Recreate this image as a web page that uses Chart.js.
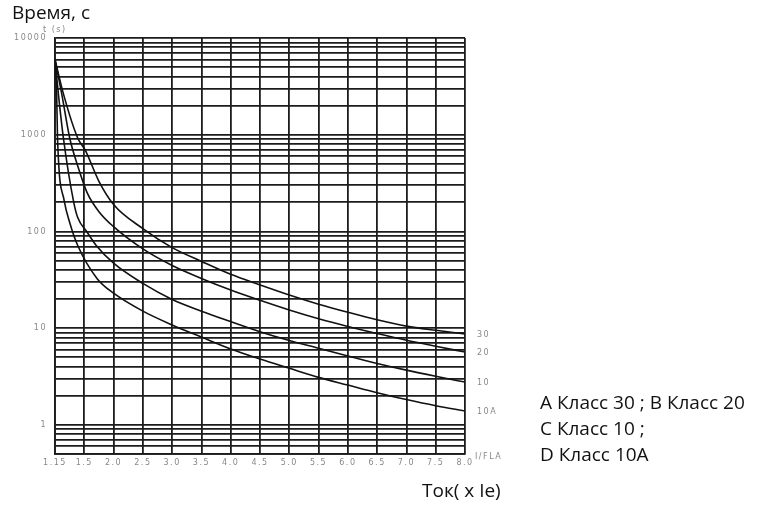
<!DOCTYPE html>
<html>
<head>
<meta charset="utf-8">
<script src="https://cdn.jsdelivr.net/npm/chart.js@4"></script>
<style>
body { margin: 0; background: #fff; }
#wrap { position: relative; width: 759px; height: 505px; }
.lbl { position: absolute; font-family: "Open Sans", sans-serif; font-size: 19px; color: #111; white-space: nowrap; line-height: 1; }
</style>
</head>
<body>
<div id="wrap">
  <canvas id="chart"></canvas>
  <div class="lbl" style="left:12px;top:3px">Время, с</div>
  <div class="lbl" style="left:422px;top:481px">Ток( x Ie)</div>
  <div class="lbl" style="left:540px;top:389px;line-height:26px">A Класс 30 ; B Класс 20<br>C Класс 10 ;<br>D Класс 10A</div>
</div>
<script>
// подписи оси X (кратность тока), шаг на графике одинаковый
const xLabels = ['1.15', '1.5', '2.0', '2.5', '3.0', '3.5', '4.0', '4.5', '5.0', '5.5', '6.0', '6.5', '7.0', '7.5', '8.0'];
// линии сетки по Y и подписанные значения
const yGrid = [0.5, 0.6, 0.7, 0.8, 0.9, 1, 2, 3, 4, 5, 6, 7, 8, 9, 10, 20, 30, 40, 50, 60, 70, 80, 90,
  100, 200, 300, 400, 500, 600, 700, 800, 900, 1000, 2000, 3000, 4000, 5000, 6000, 7000, 8000, 9000, 10000];
const yLabels = [1, 10, 100, 1000, 10000];

const endLabels = ['30', '20', '10', '10A'];

// класс 30
const current30 = [1.15, 1.25, 1.42, 1.52, 1.75, 2.0, 2.5, 3.0, 3.5, 4.0, 4.5, 5.0, 5.5, 6.0, 6.5, 7.0, 7.5, 8.0];
const time30 = [6000, 2660, 930, 684, 330, 190, 107, 68, 49, 36, 28, 22, 17.7, 14.6, 12.2, 10.5, 9.5, 8.7];
// класс 20
const current20 = [1.15, 1.23, 1.325, 1.42, 1.55, 1.75, 2.0, 2.5, 3.0, 3.5, 4.0, 4.5, 5.0, 5.5, 6.0, 6.5, 7.0, 7.5, 8.0];
const time20 = [6000, 2660, 930, 480, 250, 160, 112, 66, 44.5, 32.7, 24.8, 19.4, 15.4, 12.5, 10.4, 8.8, 7.5, 6.5, 5.66];
// класс 10
const current10 = [1.15, 1.19, 1.25, 1.37, 1.42, 1.55, 1.7, 2.0, 2.5, 3.0, 3.5, 4.0, 4.5, 5.0, 5.5, 6.0, 6.5, 7.0, 7.5, 8.0];
const time10 = [6000, 2660, 930, 208, 140, 98, 72, 47, 29, 19.8, 15, 11.7, 9.2, 7.45, 6.2, 5.15, 4.32, 3.68, 3.18, 2.77];
// класс 10A
const current10A = [1.15, 1.17, 1.18, 1.26, 1.33, 1.42, 1.72, 2.0, 2.5, 3.0, 3.5, 4.0, 4.5, 5.0, 5.5, 6.0, 6.5, 7.0, 7.5, 8.0];
const time10A = [6000, 2660, 930, 208, 120, 72, 32.5, 23, 15, 10.8, 8.1, 6.1, 4.8, 3.85, 3.1, 2.58, 2.15, 1.83, 1.58, 1.39];

// позиция на оси: первый интервал 1.15..1.5, дальше шаг 0.5
function toPos(c) {
    if (c <= 1.5) return (c - 1.15) / 0.35;
    return 1 + (c - 1.5) / 0.5;
}

function makeSet(currents, times) {
    return {
        data: currents.map((c, i) => ({ x: toPos(c), y: times[i] })),
        borderColor: '#111',
        borderWidth: 1.6,
        pointRadius: 0,
        cubicInterpolationMode: 'monotone',
        fill: false
    };
}

const gridColor = '#1c1c1c';

// разрядка мелких подписей, как на исходнике
const spacing = {
    id: 'spacing',
    beforeDraw(chart) { chart.ctx.letterSpacing = '1.5px'; },
    afterDraw(chart) { chart.ctx.letterSpacing = '0px'; }
};

const curveLabels = {
    id: 'curveLabels',
    afterDatasetsDraw(chart) {
        const ctx = chart.ctx;
        const area = chart.chartArea;
        ctx.save();
        ctx.font = '8px "DejaVu Sans"';
        ctx.fillStyle = '#888';
        ctx.textBaseline = 'middle';
        ctx.textAlign = 'left';
        chart.data.datasets.forEach((ds, i) => {
            const pts = chart.getDatasetMeta(i).data;
            const p = pts[pts.length - 1];
            ctx.fillText(endLabels[i], p.x + 12, p.y + 1);
        });
        ctx.fillText('I/FLA', area.right + 10, area.bottom + 3);
        ctx.fillText('t (s)', area.left - 12, area.top - 8);
        ctx.restore();
    }
};

new Chart(document.getElementById('chart'), {
    type: 'line',
    data: {
        datasets: [
            makeSet(current30, time30),
            makeSet(current20, time20),
            makeSet(current10, time10),
            makeSet(current10A, time10A)
        ]
    },
    options: {
        responsive: true,
        maintainAspectRatio: false,
        animation: false,
        layout: { padding: { left: 0, right: 294, top: 38, bottom: 0 } },
        plugins: { legend: { display: false }, tooltip: { enabled: false } },
        scales: {
            x: {
                type: 'linear',
                min: 0,
                max: xLabels.length - 1,
                afterBuildTicks: s => { s.ticks = xLabels.map((l, i) => ({ value: i })); },
                afterFit: s => { s.height = 51; },
                ticks: {
                    autoSkip: false,
                    maxRotation: 0,
                    padding: 4,
                    color: '#888',
                    font: { family: 'DejaVu Sans', size: 8 },
                    callback: v => xLabels[v]
                },
                grid: { color: gridColor, lineWidth: 1.8, drawTicks: false },
                border: { color: gridColor, width: 1.8 }
            },
            y: {
                type: 'logarithmic',
                min: 0.5,
                max: 10000,
                afterBuildTicks: s => { s.ticks = yGrid.map(v => ({ value: v })); },
                afterFit: s => { s.width = 55; },
                ticks: {
                    autoSkip: false,
                    padding: 8,
                    color: '#888',
                    font: { family: 'DejaVu Sans', size: 8 },
                    callback: v => yLabels.includes(v) ? String(v) : ''
                },
                grid: { color: gridColor, lineWidth: 1.8, drawTicks: false },
                border: { color: gridColor, width: 1.8 }
            }
        }
    },
    plugins: [spacing, curveLabels]
});
</script>
</body>
</html>
